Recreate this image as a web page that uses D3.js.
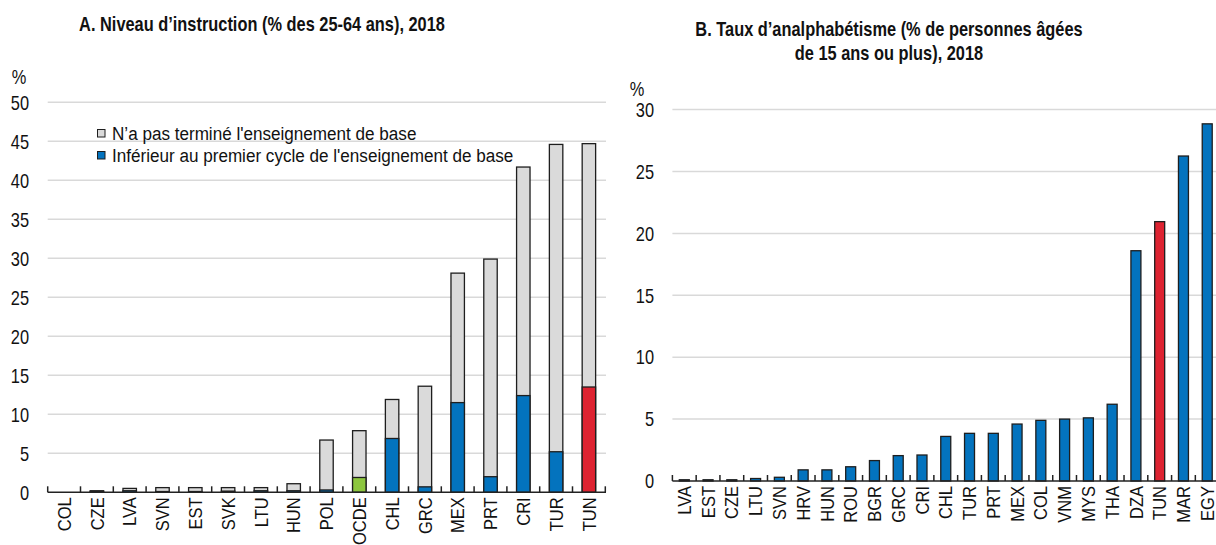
<!DOCTYPE html>
<html>
<head>
<meta charset="utf-8">
<script src="https://cdn.jsdelivr.net/npm/d3@7"></script>
<style>
  html, body { margin: 0; padding: 0; background: #fff; }
  svg { display: block; }
  text { font-family: "Liberation Sans", Arial, sans-serif; fill: #111; }
</style>
</head>
<body>
<svg id="chart" width="1216" height="545"></svg>
<script>
// Panel A: educational attainment, % of 25-64 year-olds, 2018
const countriesA = ["COL","CZE","LVA","SVN","EST","SVK","LTU","HUN","POL","OCDE","CHL","GRC","MEX","PRT","CRI","TUR","TUN"];
const notCompletedBasic = [null, 0.2, 0.5, 0.6, 0.6, 0.6, 0.6, 1.1, 6.7, 7.9, 11.9, 13.6, 28.1, 29.9, 41.7, 44.6, 44.7];
const belowPrimary      = [null, 0.1, 0.2, 0.1, 0.1, 0.15, 0.2, 0.2, 0.3, 1.9, 6.9, 0.7, 11.5, 2.0, 12.4, 5.2, 13.5];
const ticksA = [0, 5, 10, 15, 20, 25, 30, 35, 40, 45, 50];
const legendA = ["N\u2019a pas terminé l'enseignement de base", "Inférieur au premier cycle de l'enseignement de base"];

// Panel B: illiteracy rate, % of people aged 15+, 2018
const countriesB = ["LVA","EST","CZE","LTU","SVN","HRV","HUN","ROU","BGR","GRC","CRI","CHL","TUR","PRT","MEX","COL","VNM","MYS","THA","DZA","TUN","MAR","EGY"];
const illiteracy = [0.1, 0.1, 0.1, 0.2, 0.3, 0.9, 0.9, 1.15, 1.65, 2.05, 2.1, 3.6, 3.85, 3.85, 4.6, 4.9, 5.0, 5.1, 6.2, 18.6, 20.95, 26.25, 28.85];
const ticksB = [0, 5, 10, 15, 20, 25, 30];

const C = {
  grey: "#DADADA", blue: "#0373BE", red: "#DD2331", green: "#8DC73F",
  grid: "#D9D9D9", stroke: "#1E1E1E", axis: "#222"
};

const svg = d3.select("#chart");

// text set in a condensed style: horizontal squeeze along the reading direction
function placeText(parent, x, y, str, opts) {
  return parent.append("text")
    .attr("transform", `translate(${x},${y})${opts.rotate ? " rotate(" + opts.rotate + ")" : ""} scale(${opts.sx},1)`)
    .attr("text-anchor", opts.anchor || "start")
    .attr("dy", opts.dy || null)
    .attr("font-size", opts.size)
    .attr("font-weight", opts.weight || null)
    .text(str);
}

function drawPanel(cfg) {
  const g = svg.append("g");
  const x = d3.scaleBand().domain(cfg.cats).range([cfg.x0, cfg.x1]).padding(0);
  const y = d3.scaleLinear().domain([0, cfg.yMax]).range([cfg.y0, cfg.yTop]);

  // gridlines
  g.append("g").selectAll("line").data(cfg.ticks.filter(d => d > 0)).join("line")
    .attr("x1", cfg.x0).attr("x2", cfg.gridEnd)
    .attr("y1", d => y(d)).attr("y2", d => y(d))
    .attr("stroke", C.grid).attr("stroke-width", 1.5);

  // y tick labels
  const yl = g.append("g");
  cfg.ticks.forEach(d => placeText(yl, cfg.labelX, y(d), d, { anchor: "end", dy: "0.36em", size: 20, sx: 0.82 }));

  placeText(g, cfg.pctX, cfg.pctY, "%", { anchor: "middle", size: 20, sx: 0.82 });

  cfg.title.forEach((line, i) =>
    placeText(g, cfg.titleX, cfg.titleY + i * 24, line, { anchor: "middle", size: 19.5, sx: 0.84, weight: "bold" }));

  return { g, x, y };
}

// x axis: baseline, inward ticks at category boundaries, rotated labels
function drawXAxis(P, cats, lineEnd) {
  const ax = P.g.append("g");
  const y0 = P.y(0);
  const [r0] = P.x.range();
  ax.append("line").attr("x1", r0).attr("x2", lineEnd).attr("y1", y0).attr("y2", y0)
    .attr("stroke", C.axis).attr("stroke-width", 1.5);
  const bounds = d3.range(cats.length + 1).map(i => r0 + i * P.x.step()).filter(b => b <= lineEnd + 0.5);
  ax.selectAll("line.tk").data(bounds).join("line").attr("class", "tk")
    .attr("x1", d => d).attr("x2", d => d).attr("y1", y0).attr("y2", y0 - 6)
    .attr("stroke", C.axis).attr("stroke-width", 1.5);
  cats.forEach(c => placeText(ax, P.x(c) + P.x.bandwidth() / 2, y0 + 5, c,
    { anchor: "end", dy: "0.35em", size: 19, sx: 0.87, rotate: -90 }));
}

// ---------- Panel A ----------
const A = drawPanel({
  cats: countriesA, x0: 47.7, x1: 605.3, gridEnd: 606, y0: 492.3, yTop: 102.3, yMax: 50,
  ticks: ticksA, labelX: 29, pctX: 19, pctY: 84,
  title: ["A. Niveau d\u2019instruction (% des 25-64 ans), 2018"], titleX: 262, titleY: 31
});
const bwA = A.x.bandwidth() * 0.41;
const barsA = countriesA.map((c, i) => ({ c, total: notCompletedBasic[i], low: belowPrimary[i] }))
  .filter(d => d.total != null);

A.g.append("g").selectAll("rect").data(barsA).join("rect")
  .attr("x", d => A.x(d.c) + (A.x.bandwidth() - bwA) / 2).attr("width", bwA)
  .attr("y", d => A.y(d.total)).attr("height", d => A.y(0) - A.y(d.total))
  .attr("fill", C.grey).attr("stroke", C.stroke).attr("stroke-width", 1.3);

A.g.append("g").selectAll("rect").data(barsA).join("rect")
  .attr("x", d => A.x(d.c) + (A.x.bandwidth() - bwA) / 2).attr("width", bwA)
  .attr("y", d => A.y(d.low)).attr("height", d => A.y(0) - A.y(d.low))
  .attr("fill", d => d.c === "TUN" ? C.red : d.c === "OCDE" ? C.green : C.blue)
  .attr("stroke", C.stroke).attr("stroke-width", 1.3);

drawXAxis(A, countriesA, 606);

// legend A
const legA = A.g.append("g");
[[C.grey, legendA[0], 133], [C.blue, legendA[1], 155]].forEach(([col, txt, cy]) => {
  legA.append("rect").attr("x", 97.5).attr("y", cy - 3.5).attr("width", 7.5).attr("height", 7.5)
    .attr("fill", col).attr("stroke", C.stroke).attr("stroke-width", 1);
  placeText(legA, 112, cy, txt, { dy: "0.36em", size: 19, sx: 0.9 });
});

// ---------- Panel B ----------
const B = drawPanel({
  cats: countriesB, x0: 672.4, x1: 672.4 + 23 * 23.77, gridEnd: 1216, y0: 481, yTop: 109.6, yMax: 30,
  ticks: ticksB, labelX: 654, pctX: 637, pctY: 96,
  title: ["B. Taux d\u2019analphabétisme (% de personnes âgées", "de 15 ans ou plus), 2018"], titleX: 889, titleY: 36
});
const bwB = B.x.bandwidth() * 0.42;
const barsB = countriesB.map((c, i) => ({ c, v: illiteracy[i] }));
B.g.append("g").selectAll("rect").data(barsB).join("rect")
  .attr("x", d => B.x(d.c) + (B.x.bandwidth() - bwB) / 2).attr("width", bwB)
  .attr("y", d => B.y(d.v)).attr("height", d => B.y(0) - B.y(d.v))
  .attr("fill", d => d.c === "TUN" ? C.red : C.blue)
  .attr("stroke", C.stroke).attr("stroke-width", 1.3);
drawXAxis(B, countriesB, 1216);
</script>
</body>
</html>
